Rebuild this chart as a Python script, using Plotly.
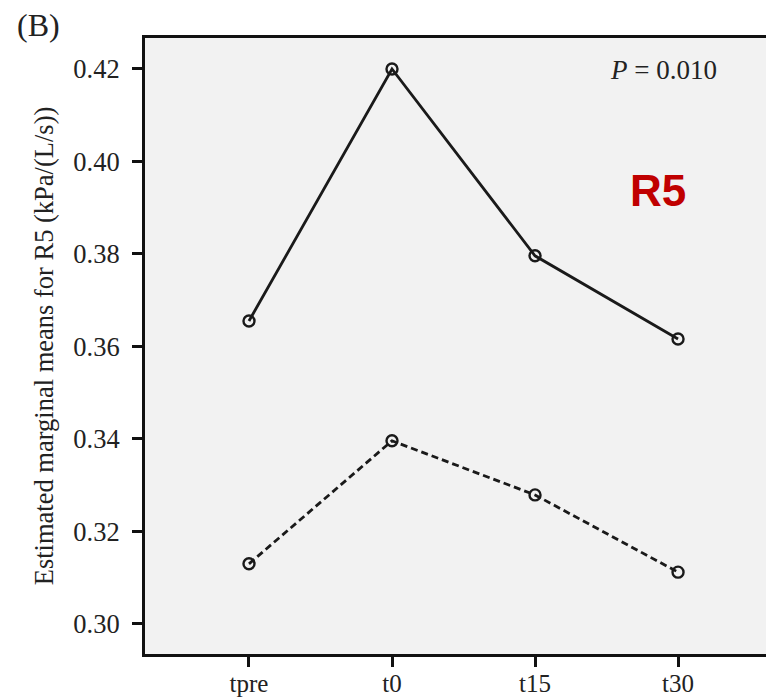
import plotly.graph_objects as go

categories = ["tpre", "t0", "t15", "t30"]
solid_values = [0.3655, 0.4200, 0.3796, 0.3616]
dashed_values = [0.3130, 0.3396, 0.3279, 0.3112]
y_ticks = [0.30, 0.32, 0.34, 0.36, 0.38, 0.40, 0.42]
y_tick_labels = ["0.30", "0.32", "0.34", "0.36", "0.38", "0.40", "0.42"]

xpos = list(range(len(categories)))
serif = "Liberation Serif, Times New Roman, serif"

fig = go.Figure()
fig.add_trace(go.Scatter(
    x=xpos, y=solid_values, mode="lines+markers",
    line=dict(color="#1a1a1a", width=2.8),
    marker=dict(symbol="circle-open", size=11, color="#1a1a1a", line=dict(width=2.4)),
    showlegend=False,
))
fig.add_trace(go.Scatter(
    x=xpos, y=dashed_values, mode="lines+markers",
    line=dict(color="#1a1a1a", width=2.8, dash="7px,4px"),
    marker=dict(symbol="circle-open", size=11, color="#1a1a1a", line=dict(width=2.4)),
    showlegend=False,
))

fig.update_layout(
    width=766, height=700,
    margin=dict(l=145, r=0, t=38, b=46),
    paper_bgcolor="white",
    plot_bgcolor="#f2f2f2",
    font=dict(family=serif, color="#222222"),
    xaxis=dict(
        range=[-0.727, 3.615], automargin=False,
        tickmode="array", tickvals=xpos, ticktext=categories,
        showgrid=False, zeroline=False,
        showline=True, linecolor="#111111", linewidth=3, mirror=True,
        ticks="outside", ticklen=10, tickwidth=2.5, tickcolor="#111111",
        ticklabelstandoff=-5,
        tickfont=dict(family=serif, size=25, color="#222222"),
    ),
    yaxis=dict(
        range=[0.2935, 0.4267],
        tickmode="array", tickvals=y_ticks, ticktext=y_tick_labels,
        showgrid=False, zeroline=False,
        showline=True, linecolor="#111111", linewidth=3,
        ticks="outside", ticklen=10, tickwidth=2.5, tickcolor="#111111",
        ticklabelstandoff=7,
        tickfont=dict(family=serif, size=26.5, color="#222222"),
        title=dict(text="Estimated marginal means for R5 (kPa/(L/s))",
                   font=dict(family=serif, size=26.5, color="#222222"), standoff=13),
    ),
)

fig.add_annotation(
    xref="paper", yref="paper", x=-0.21, y=1.021, xanchor="left", yanchor="middle",
    text="(B)", showarrow=False, font=dict(family=serif, size=32, color="#222222"),
)
fig.add_annotation(
    xref="x", yref="y", x=2.895, y=0.4198, xanchor="center", yanchor="middle",
    text="<i>P</i> = 0.010", showarrow=False,
    font=dict(family=serif, size=27, color="#222222"),
)
fig.add_annotation(
    xref="x", yref="y", x=2.86, y=0.3938, xanchor="center", yanchor="middle",
    text="<b>R5</b>", showarrow=False,
    font=dict(family="Liberation Sans, Arial, sans-serif", size=44, color="#c00000"),
)

fig.write_html("out.html", config={"displayModeBar": False},
               post_script="document.body.style.margin='0';")
